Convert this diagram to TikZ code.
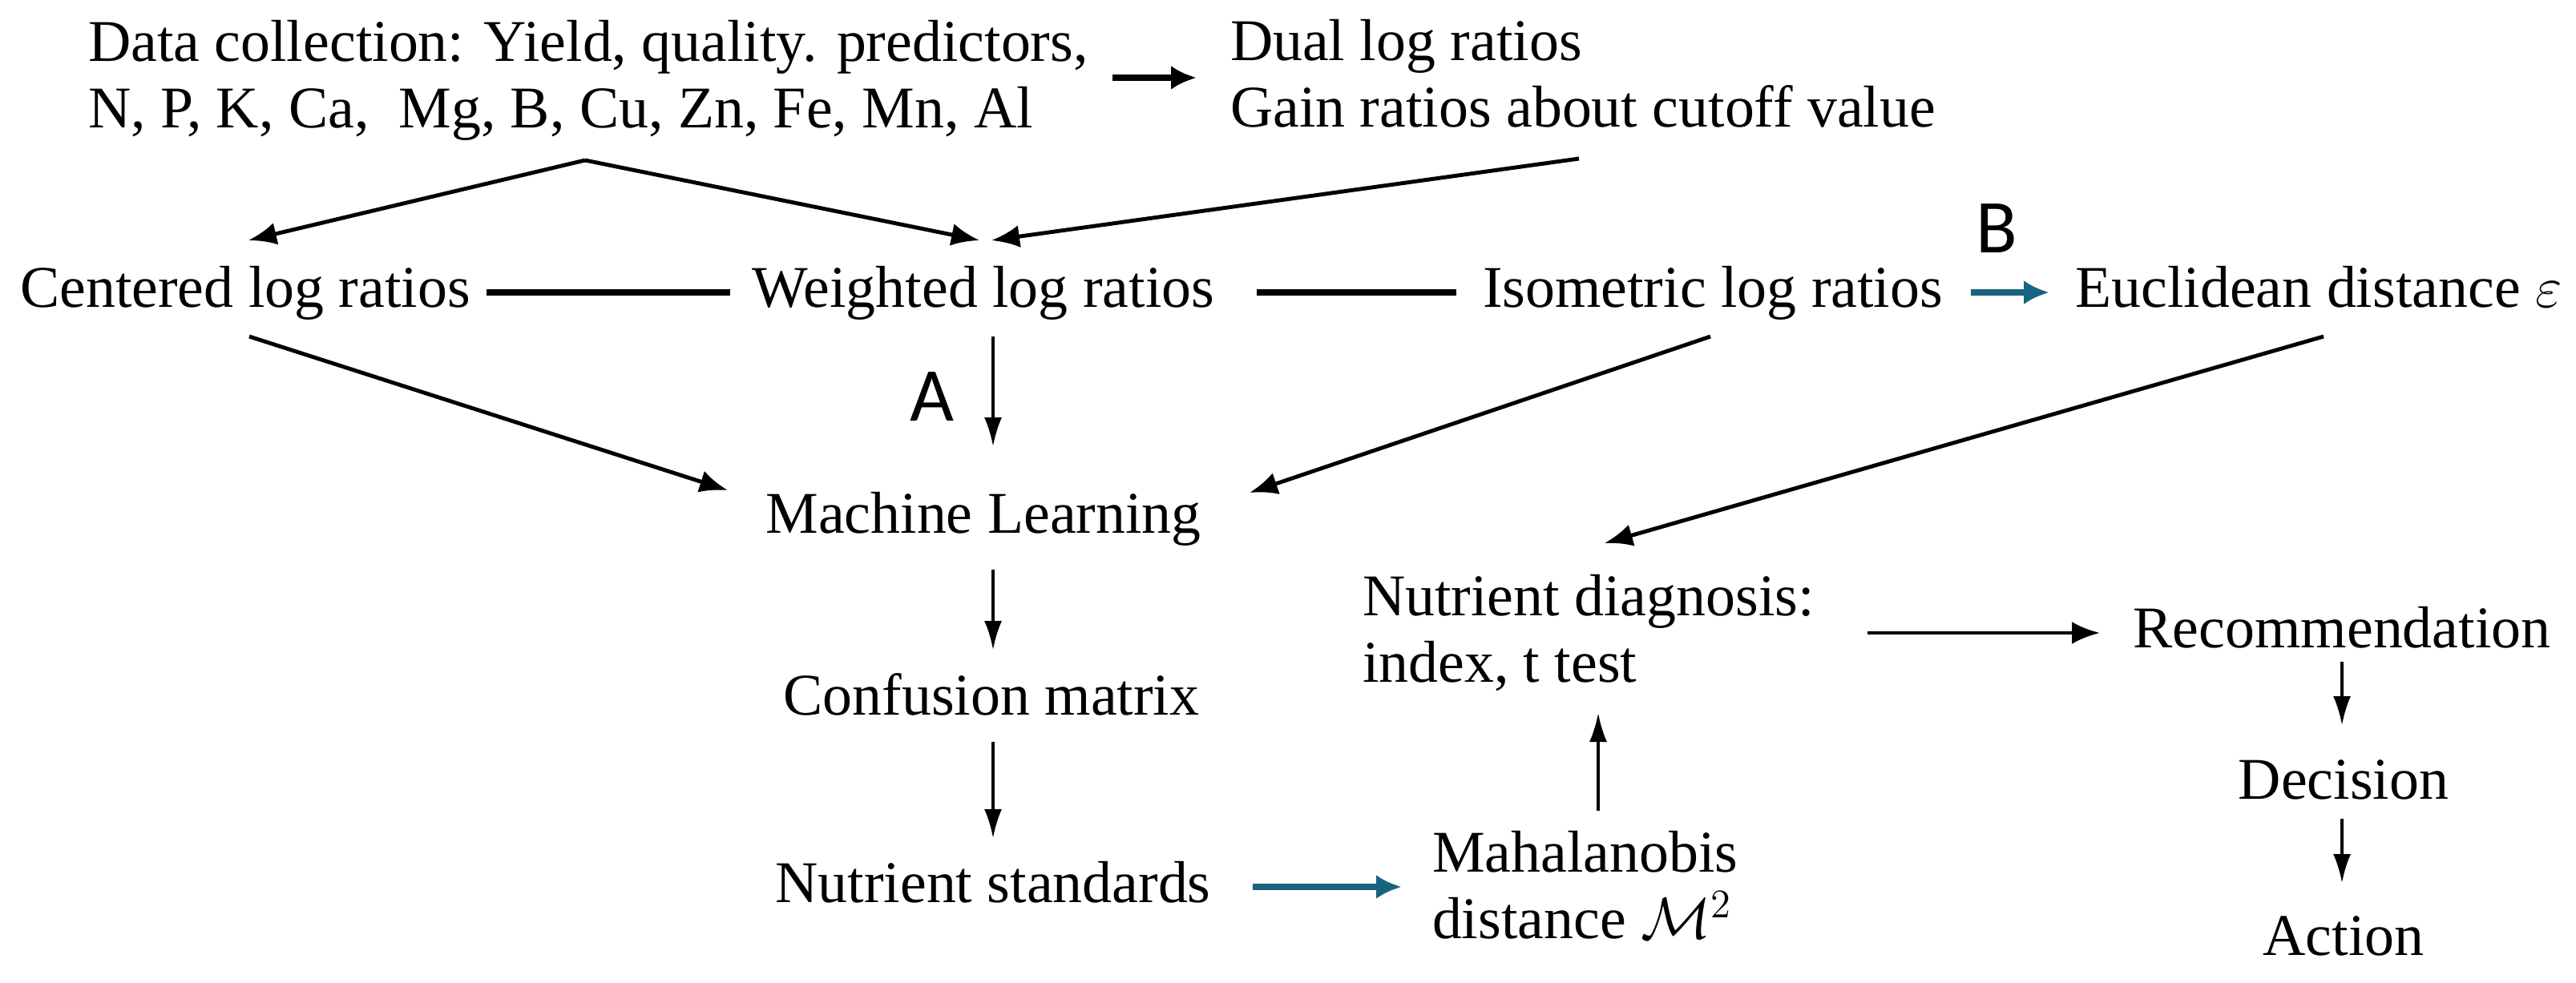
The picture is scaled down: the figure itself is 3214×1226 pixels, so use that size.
\documentclass[tikz,border=0pt]{standalone}
\usepackage{fontspec}
\setmainfont{Liberation Serif}
\newfontfamily\labelfont{Carlito}
\usetikzlibrary{arrows.meta,calc}
\definecolor{flowblue}{RGB}{22,100,128}
\begin{document}
\begin{tikzpicture}[x=0.1mm,y=-0.1mm,
  every node/.style={inner sep=0pt,outer sep=0pt,font=\fontsize{21}{23.6}\selectfont},
  txt/.style={anchor=base},
  blk/.style={anchor=west,align=left},
  lab/.style={anchor=base,font=\labelfont\fontsize{27}{30}\selectfont},
  arr/.style={line width=1.4pt,-{Latex[length=3.5mm,width=2.8mm]}},
  varr/.style={line width=1pt,-{Latex[length=3.6mm,width=2.2mm]}},
  tarr/.style={line width=2.3pt,-{Latex[length=3.2mm,width=3mm]}},
  barr/.style={line width=2.3pt,flowblue,-{Latex[length=3.2mm,width=3mm]}},
  link/.style={line width=2.2pt}]
\useasboundingbox (0,0) rectangle (3214,1226);

% top row
\node[blk] (data) at (110,100) {Data collection: Yield, quality. predictors,\\N, P, K, Ca,\ \ Mg, B, Cu, Zn, Fe, Mn, Al};
\node[blk] (dual) at (1535,92) {Dual log ratios\\Gain ratios about cutoff value};
\coordinate (dataR) at (1388,97);
\coordinate (apex) at (730,200);
\coordinate (dualfoot) at (1970,198);

% second row
\node[txt] (centered) at (306,383) {Centered log ratios};
\node[txt] (weighted) at (1227,383) {Weighted log ratios};
\node[txt] (isometric) at (2137,383) {Isometric log ratios};
\node[txt] (euclid) at (2893,383) {Euclidean distance $\varepsilon$};
\node[lab] (labA) at (1163,525) {A};
\node[lab] (labB) at (2491,315) {B};

% middle column
\node[txt] (ml) at (1227,665) {Machine Learning};
\node[txt] (conf) at (1237,892) {Confusion matrix};
\node[txt] (std) at (1239,1126) {Nutrient standards};
\node[blk] (maha) at (1787,1105) {Mahalanobis\\distance $\mathcal{M}^{2}$};
\node[blk] (nutdiag) at (1700,790) {Nutrient diagnosis:\\index, t test};

% right column
\node[txt] (rec) at (2922,808) {Recommendation};
\node[txt] (dec) at (2924,997) {Decision};
\node[txt] (act) at (2924,1192) {Action};

% connectors
\draw[tarr] (dataR) -- ($(dual.west)+(-42,5)$);
\draw[arr] (apex) -- ($(centered.base)+(4,-83)$);
\draw[arr] (apex) -- ($(weighted.base)+(-5,-83)$);
\draw[arr] (dualfoot) -- ($(weighted.base)+(10,-83)$);

\draw[link] ($(centered.base)+(301,-18)$) -- ($(weighted.base)+(-316,-18)$);
\draw[link] ($(weighted.base)+(341,-18)$) -- ($(isometric.base)+(-320,-18)$);
\draw[barr] ($(isometric.base)+(322,-18)$) -- ($(euclid.base)+(-336,-18)$);

\draw[varr] ($(weighted.base)+(12,37)$) -- ($(ml.base)+(12,-108)$);
\draw[arr] ($(centered.base)+(5,37)$) -- ($(ml.base)+(-319,-53)$);
\draw[arr] ($(isometric.base)+(-3,37)$) -- ($(ml.base)+(332,-50)$);
\draw[arr] ($(euclid.base)+(6,37)$) -- ($(nutdiag.west)+(302,-112)$);

\draw[varr] ($(ml.base)+(12,46)$) -- ($(conf.base)+(2,-81)$);
\draw[varr] ($(conf.base)+(2,34)$) -- ($(std.base)+(0,-80)$);
\draw[barr] ($(std.base)+(324,-19)$) -- ($(maha.west)+(-38,2)$);
\draw[varr] ($(maha.west)+(207,-93)$) -- ($(nutdiag.west)+(294,100)$);
\draw[arr] ($(nutdiag.west)+(630,0)$) -- ($(rec.base)+(-302,-18)$);
\draw[varr] ($(rec.base)+(0,18)$) -- ($(dec.base)+(-2,-92)$);
\draw[varr] ($(dec.base)+(-2,25)$) -- ($(act.base)+(-2,-90)$);
\end{tikzpicture}
\end{document}
